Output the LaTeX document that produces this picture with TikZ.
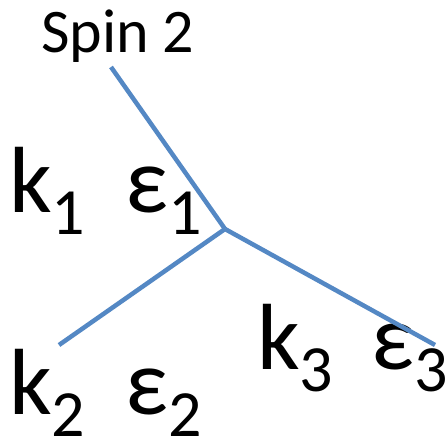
\documentclass[tikz,border=0pt]{standalone}
\usepackage{fontspec}
\setmainfont{Carlito}
\definecolor{lineblue}{RGB}{84,136,196}
\newcommand{\bigsym}[2]{\fontsize{94}{94}\selectfont #1\raisebox{-22pt}[0pt][0pt]{\fontsize{66}{66}\selectfont #2}}
\begin{document}
\begin{tikzpicture}[x=1pt,y=-1pt,
  leg/.style={draw=lineblue,line width=4.5pt},
  lbl/.style={inner sep=0pt,anchor=base west,text=black}]
\useasboundingbox (0,0) rectangle (446,443);
\node[lbl] (spin) at (41,53) {\fontsize{62}{62}\selectfont Spin 2};
\node[lbl] (k1) at (9,213) {\bigsym{k}{1}};
\node[lbl] (e1) at (125,213) {\bigsym{ε}{1}};
\node[lbl] (k2) at (9,414) {\bigsym{k}{2}};
\node[lbl] (e2) at (125,414) {\bigsym{ε}{2}};
\node[lbl] (k3) at (257,369) {\bigsym{k}{3}};
\node[lbl] (e3) at (371,369) {\bigsym{ε}{3}};
\coordinate (v) at (225,229);
\coordinate (a) at (111,67);
\coordinate (b) at (59,345);
\coordinate (c) at (435,345);
\draw[leg] (v) -- (a);
\draw[leg] (v) -- (b);
\draw[leg] (v) -- (c);
\end{tikzpicture}
\end{document}
